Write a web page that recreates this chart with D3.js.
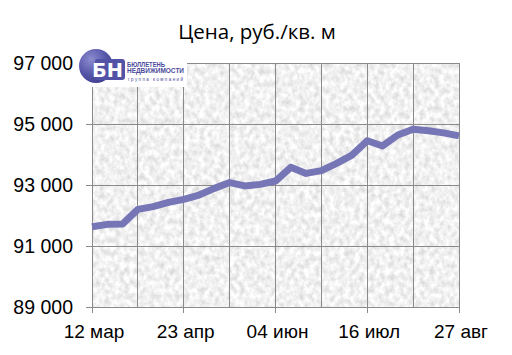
<!DOCTYPE html>
<html>
<head>
<meta charset="utf-8">
<script src="https://cdn.jsdelivr.net/npm/d3@7.9.0/dist/d3.min.js"></script>
<style>
  body { margin: 0; background: #fff; }
  svg { display: block; }
</style>
</head>
<body>
<svg id="chart" width="512" height="355"></svg>
<script>
// weekly price, rub per sq. m
const dates = [
  '2012-03-12', '2012-03-19', '2012-03-26', '2012-04-02', '2012-04-09',
  '2012-04-16', '2012-04-23', '2012-04-30', '2012-05-07', '2012-05-14',
  '2012-05-21', '2012-05-28', '2012-06-04', '2012-06-11', '2012-06-18',
  '2012-06-25', '2012-07-02', '2012-07-09', '2012-07-16', '2012-07-23',
  '2012-07-30', '2012-08-06', '2012-08-13', '2012-08-20', '2012-08-27'
];
const prices = [
  91630, 91710, 91720, 92200, 92290,
  92430, 92530, 92670, 92890, 93080,
  92970, 93020, 93130, 93580, 93380,
  93470, 93710, 93980, 94450, 94280,
  94640, 94830, 94780, 94710, 94610
];
const gridDates = [
  '2012-03-12', '2012-04-02', '2012-04-23', '2012-05-14', '2012-06-04',
  '2012-06-25', '2012-07-16', '2012-08-06', '2012-08-27'
];
const labelDates = ['2012-03-12', '2012-04-23', '2012-06-04', '2012-07-16', '2012-08-27'];
const monthNames = ['янв', 'фев', 'мар', 'апр', 'май', 'июн', 'июл', 'авг', 'сен', 'окт', 'ноя', 'дек'];
const yTicks = [89000, 91000, 93000, 95000, 97000];

const parse = d3.utcParse('%Y-%m-%d');
const data = dates.map((d, i) => ({ date: parse(d), value: prices[i] }));

const plotL = 92, plotR = 459, plotT = 63, plotB = 307;

const x = d3.scaleUtc()
  .domain([parse(dates[0]), parse(dates[dates.length - 1])])
  .range([plotL, plotR]);
const y = d3.scaleLinear().domain([89000, 97000]).range([plotB, plotT]);

const svg = d3.select('#chart');

// marble-ish background
const defs = svg.append('defs');
const filter = defs.append('filter')
  .attr('id', 'marble')
  .attr('filterUnits', 'userSpaceOnUse')
  .attr('x', plotL).attr('y', plotT)
  .attr('width', plotR - plotL).attr('height', plotB - plotT)
  .attr('color-interpolation-filters', 'sRGB');
filter.append('feTurbulence')
  .attr('type', 'fractalNoise')
  .attr('baseFrequency', '0.2 0.16')
  .attr('numOctaves', 3)
  .attr('seed', 7);
filter.append('feColorMatrix')
  .attr('type', 'matrix')
  .attr('values', '0.26 0 0 0 0.815  0.26 0 0 0 0.815  0.26 0 0 0 0.815  0 0 0 0 1');

svg.append('rect')
  .attr('x', plotL).attr('y', plotT)
  .attr('width', plotR - plotL).attr('height', plotB - plotT)
  .attr('fill', '#f0f0f0')
  .attr('filter', 'url(#marble)');

// grid
svg.append('g')
  .selectAll('line')
  .data(yTicks)
  .join('line')
  .attr('x1', plotL - 6).attr('x2', plotR)
  .attr('y1', d => y(d)).attr('y2', d => y(d))
  .attr('stroke', '#8a8a8a').attr('shape-rendering', 'crispEdges');

svg.append('g')
  .selectAll('line')
  .data(gridDates)
  .join('line')
  .attr('x1', d => x(parse(d))).attr('x2', d => x(parse(d)))
  .attr('y1', plotT)
  .attr('y2', d => labelDates.includes(d) ? plotB + 6 : plotB)
  .attr('stroke', '#8a8a8a').attr('shape-rendering', 'crispEdges');

// axis labels
const fmt = v => d3.format(',')(v).replace(',', ' ');
svg.append('g')
  .selectAll('text')
  .data(yTicks)
  .join('text')
  .attr('x', 73).attr('y', d => y(d))
  .attr('dy', '0.36em')
  .attr('text-anchor', 'end')
  .attr('font-family', 'Liberation Sans, Arial, sans-serif')
  .attr('font-size', 19.5)
  .attr('fill', '#000')
  .text(fmt);

svg.append('g')
  .selectAll('text')
  .data(labelDates)
  .join('text')
  .attr('x', d => x(parse(d)) + 2).attr('y', 338)
  .attr('text-anchor', 'middle')
  .attr('font-family', 'Liberation Sans, Arial, sans-serif')
  .attr('font-size', 19)
  .attr('fill', '#000')
  .text(d => {
    const dt = parse(d);
    return d3.utcFormat('%d')(dt) + ' ' + monthNames[dt.getUTCMonth()];
  });

// line
const line = d3.line().x(d => x(d.date)).y(d => y(d.value));
svg.append('path')
  .datum(data)
  .attr('d', line)
  .attr('fill', 'none')
  .attr('stroke', '#7676b6')
  .attr('stroke-width', 7)
  .attr('stroke-linejoin', 'round');

// title
svg.append('text')
  .attr('x', 257).attr('y', 39)
  .attr('text-anchor', 'middle')
  .attr('font-family', 'Open Sans, sans-serif')
  .attr('font-size', 20.5)
  .attr('fill', '#000')
  .text('Цена, руб./кв. м');

// logo
const logo = svg.append('g');
const grad = defs.append('radialGradient')
  .attr('id', 'logoGrad')
  .attr('cx', '35%').attr('cy', '30%').attr('r', '75%');
grad.append('stop').attr('offset', '0%').attr('stop-color', '#8c8cd0');
grad.append('stop').attr('offset', '55%').attr('stop-color', '#5a5aac');
grad.append('stop').attr('offset', '100%').attr('stop-color', '#3e3e90');

logo.append('rect')
  .attr('x', 89).attr('y', 58).attr('width', 98).attr('height', 29)
  .attr('fill', '#fff');
logo.append('circle')
  .attr('cx', 96).attr('cy', 66).attr('r', 17)
  .attr('fill', 'url(#logoGrad)');
logo.append('rect')
  .attr('x', 95).attr('y', 59).attr('width', 30).attr('height', 21)
  .attr('rx', 3)
  .attr('fill', '#5252a6');
logo.append('text')
  .attr('x', 92).attr('y', 76.5)
  .attr('font-family', 'DejaVu Sans, sans-serif')
  .attr('font-weight', 'bold')
  .attr('font-size', 19.5)
  .attr('fill', '#fff')
  .attr('textLength', 31)
  .attr('lengthAdjust', 'spacingAndGlyphs')
  .text('БН');
logo.append('text')
  .attr('x', 127).attr('y', 66.5)
  .attr('font-family', 'Liberation Sans, Arial, sans-serif')
  .attr('font-weight', 'bold')
  .attr('font-size', 6.5)
  .attr('fill', '#4a4a9a')
  .attr('textLength', 38)
  .attr('lengthAdjust', 'spacingAndGlyphs')
  .text('БЮЛЛЕТЕНЬ');
logo.append('text')
  .attr('x', 127).attr('y', 72.5)
  .attr('font-family', 'Liberation Sans, Arial, sans-serif')
  .attr('font-weight', 'bold')
  .attr('font-size', 6.5)
  .attr('fill', '#4a4a9a')
  .attr('textLength', 57)
  .attr('lengthAdjust', 'spacingAndGlyphs')
  .text('НЕДВИЖИМОСТИ');
logo.append('text')
  .attr('x', 128).attr('y', 81)
  .attr('font-family', 'Liberation Sans, Arial, sans-serif')
  .attr('font-size', 4.5)
  .attr('fill', '#4a4a9a')
  .attr('textLength', 55)
  .attr('lengthAdjust', 'spacing')
  .text('группа компаний');
</script>
</body>
</html>
